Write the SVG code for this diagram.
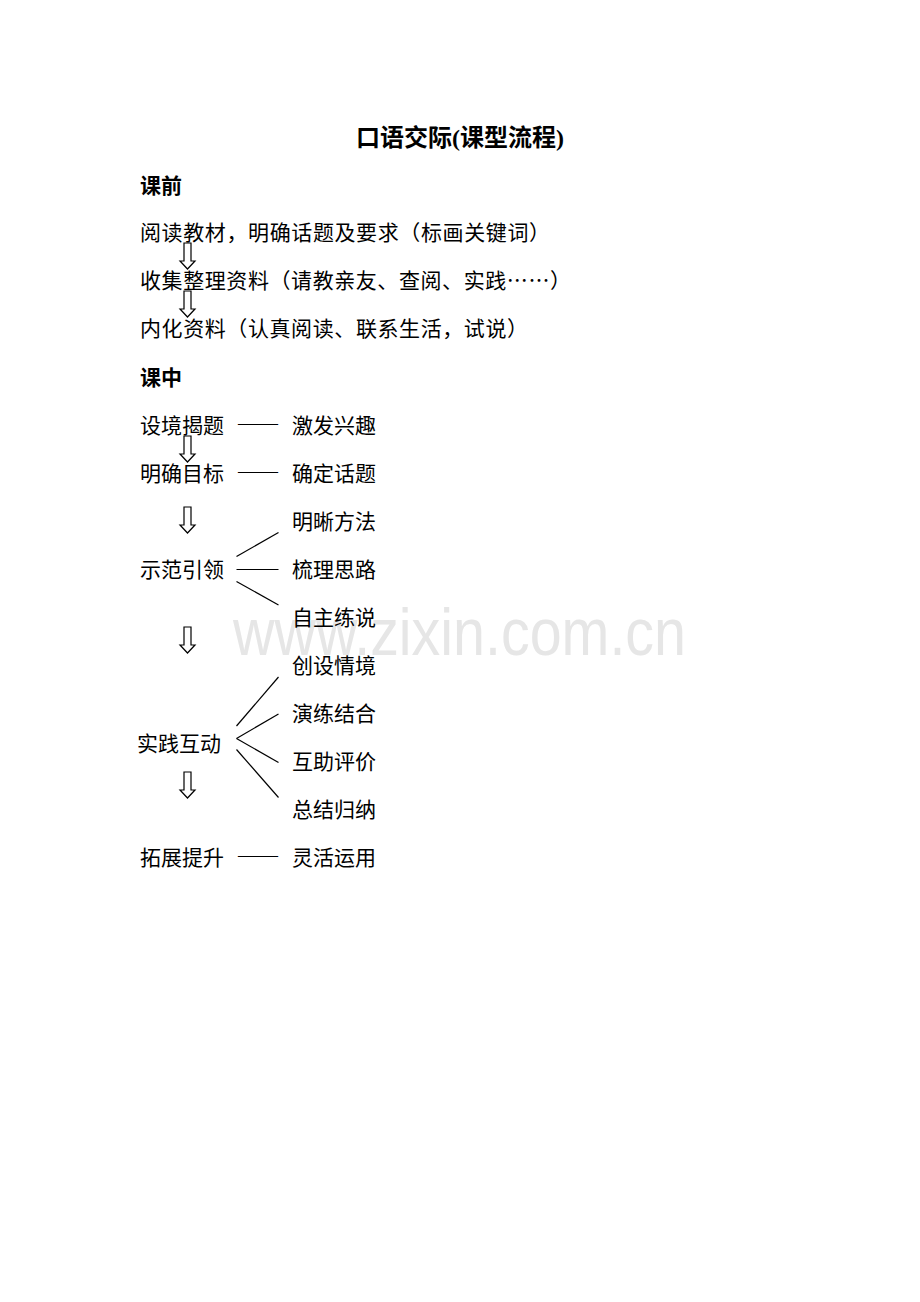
<svg xmlns="http://www.w3.org/2000/svg" width="920" height="1302" viewBox="0 0 920 1302">
<style>
.t{font-family:"Liberation Serif","Noto Sans CJK SC",serif;font-size:21px;fill:#000}
.b{font-weight:bold}
.ttl{font-family:"Liberation Serif","Noto Sans CJK SC",serif;font-size:24px;font-weight:bold;fill:#000}
.cjk{font-family:"Noto Sans CJK SC",sans-serif}
.ln{stroke:#000;stroke-width:1.2;fill:none}
.arr{stroke:#000;stroke-width:1.2;fill:#fff}
.wm{font-family:"Liberation Sans",Arial,sans-serif;font-size:66px;fill:#e6e6e6}
</style>
<defs>
<path id="dn" class="arr" d="M-3.5,0 H3.5 V18 H7.5 L0,26 L-7.5,18 H-3.5 Z"/>
</defs>
<rect width="920" height="1302" fill="#fff"/>
<text class="wm" x="233" y="655" textLength="453" lengthAdjust="spacingAndGlyphs">www.zixin.com.cn</text>
<text class="ttl" x="356" y="146">口语交际(课型流程)</text>
<g id="pre">
<text class="t b" x="140" y="193">课前</text>
<g id="n1"><text class="t" x="140" y="240" textLength="410">阅读教材，明确话题及要求（标画关键词）</text></g>
<g id="n2"><text class="t" x="140" y="288" textLength="431">收集整理资料（请教亲友、查阅、实践<tspan class="cjk">……</tspan>）</text></g>
<g id="n3"><text class="t" x="140" y="336" textLength="388">内化资料（认真阅读、联系生活，试说）</text></g>
</g>
<text class="t b" x="140" y="385">课中</text>
<g id="m1"><text class="t" x="140" y="433">设境揭题</text></g>
<g id="m1r"><text class="t" x="292" y="433">激发兴趣</text></g>
<g id="m2"><text class="t" x="140" y="481">明确目标</text></g>
<g id="m2r"><text class="t" x="292" y="481">确定话题</text></g>
<g id="m3"><text class="t" x="140" y="577">示范引领</text></g>
<g id="m3a"><text class="t" x="292" y="529">明晰方法</text></g>
<g id="m3b"><text class="t" x="292" y="577">梳理思路</text></g>
<g id="m3c"><text class="t" x="292" y="625">自主练说</text></g>
<g id="m4"><text class="t" x="137" y="751">实践互动</text></g>
<g id="m4a"><text class="t" x="292" y="673">创设情境</text></g>
<g id="m4b"><text class="t" x="292" y="721">演练结合</text></g>
<g id="m4c"><text class="t" x="292" y="769">互助评价</text></g>
<g id="m4d"><text class="t" x="292" y="817">总结归纳</text></g>
<g id="m5"><text class="t" x="140" y="865">拓展提升</text></g>
<g id="m5r"><text class="t" x="292" y="865">灵活运用</text></g>
<g id="connectors">
<text class="t" x="238" y="430" textLength="40">——</text>
<text class="t" x="238" y="478" textLength="40">——</text>
<text class="t" x="238" y="862" textLength="40">——</text>
<use href="#dn" x="187.5" y="243"/>
<use href="#dn" x="187.5" y="291"/>
<use href="#dn" x="187.5" y="436"/>
<use href="#dn" x="187.5" y="507"/>
<use href="#dn" x="187.5" y="627"/>
<use href="#dn" x="187.5" y="772"/>
<line class="ln" x1="236.5" y1="556.5" x2="278.5" y2="532.5"/>
<line class="ln" x1="236.5" y1="569.5" x2="278.5" y2="569.5"/>
<line class="ln" x1="236.5" y1="581.5" x2="278.5" y2="605"/>
<line class="ln" x1="236.5" y1="726" x2="278.5" y2="677"/>
<line class="ln" x1="236.5" y1="738.5" x2="278.5" y2="714"/>
<line class="ln" x1="236.5" y1="738.5" x2="278.5" y2="762.5"/>
<line class="ln" x1="236.5" y1="749.5" x2="278.5" y2="797.5"/>
</g>
</svg>
